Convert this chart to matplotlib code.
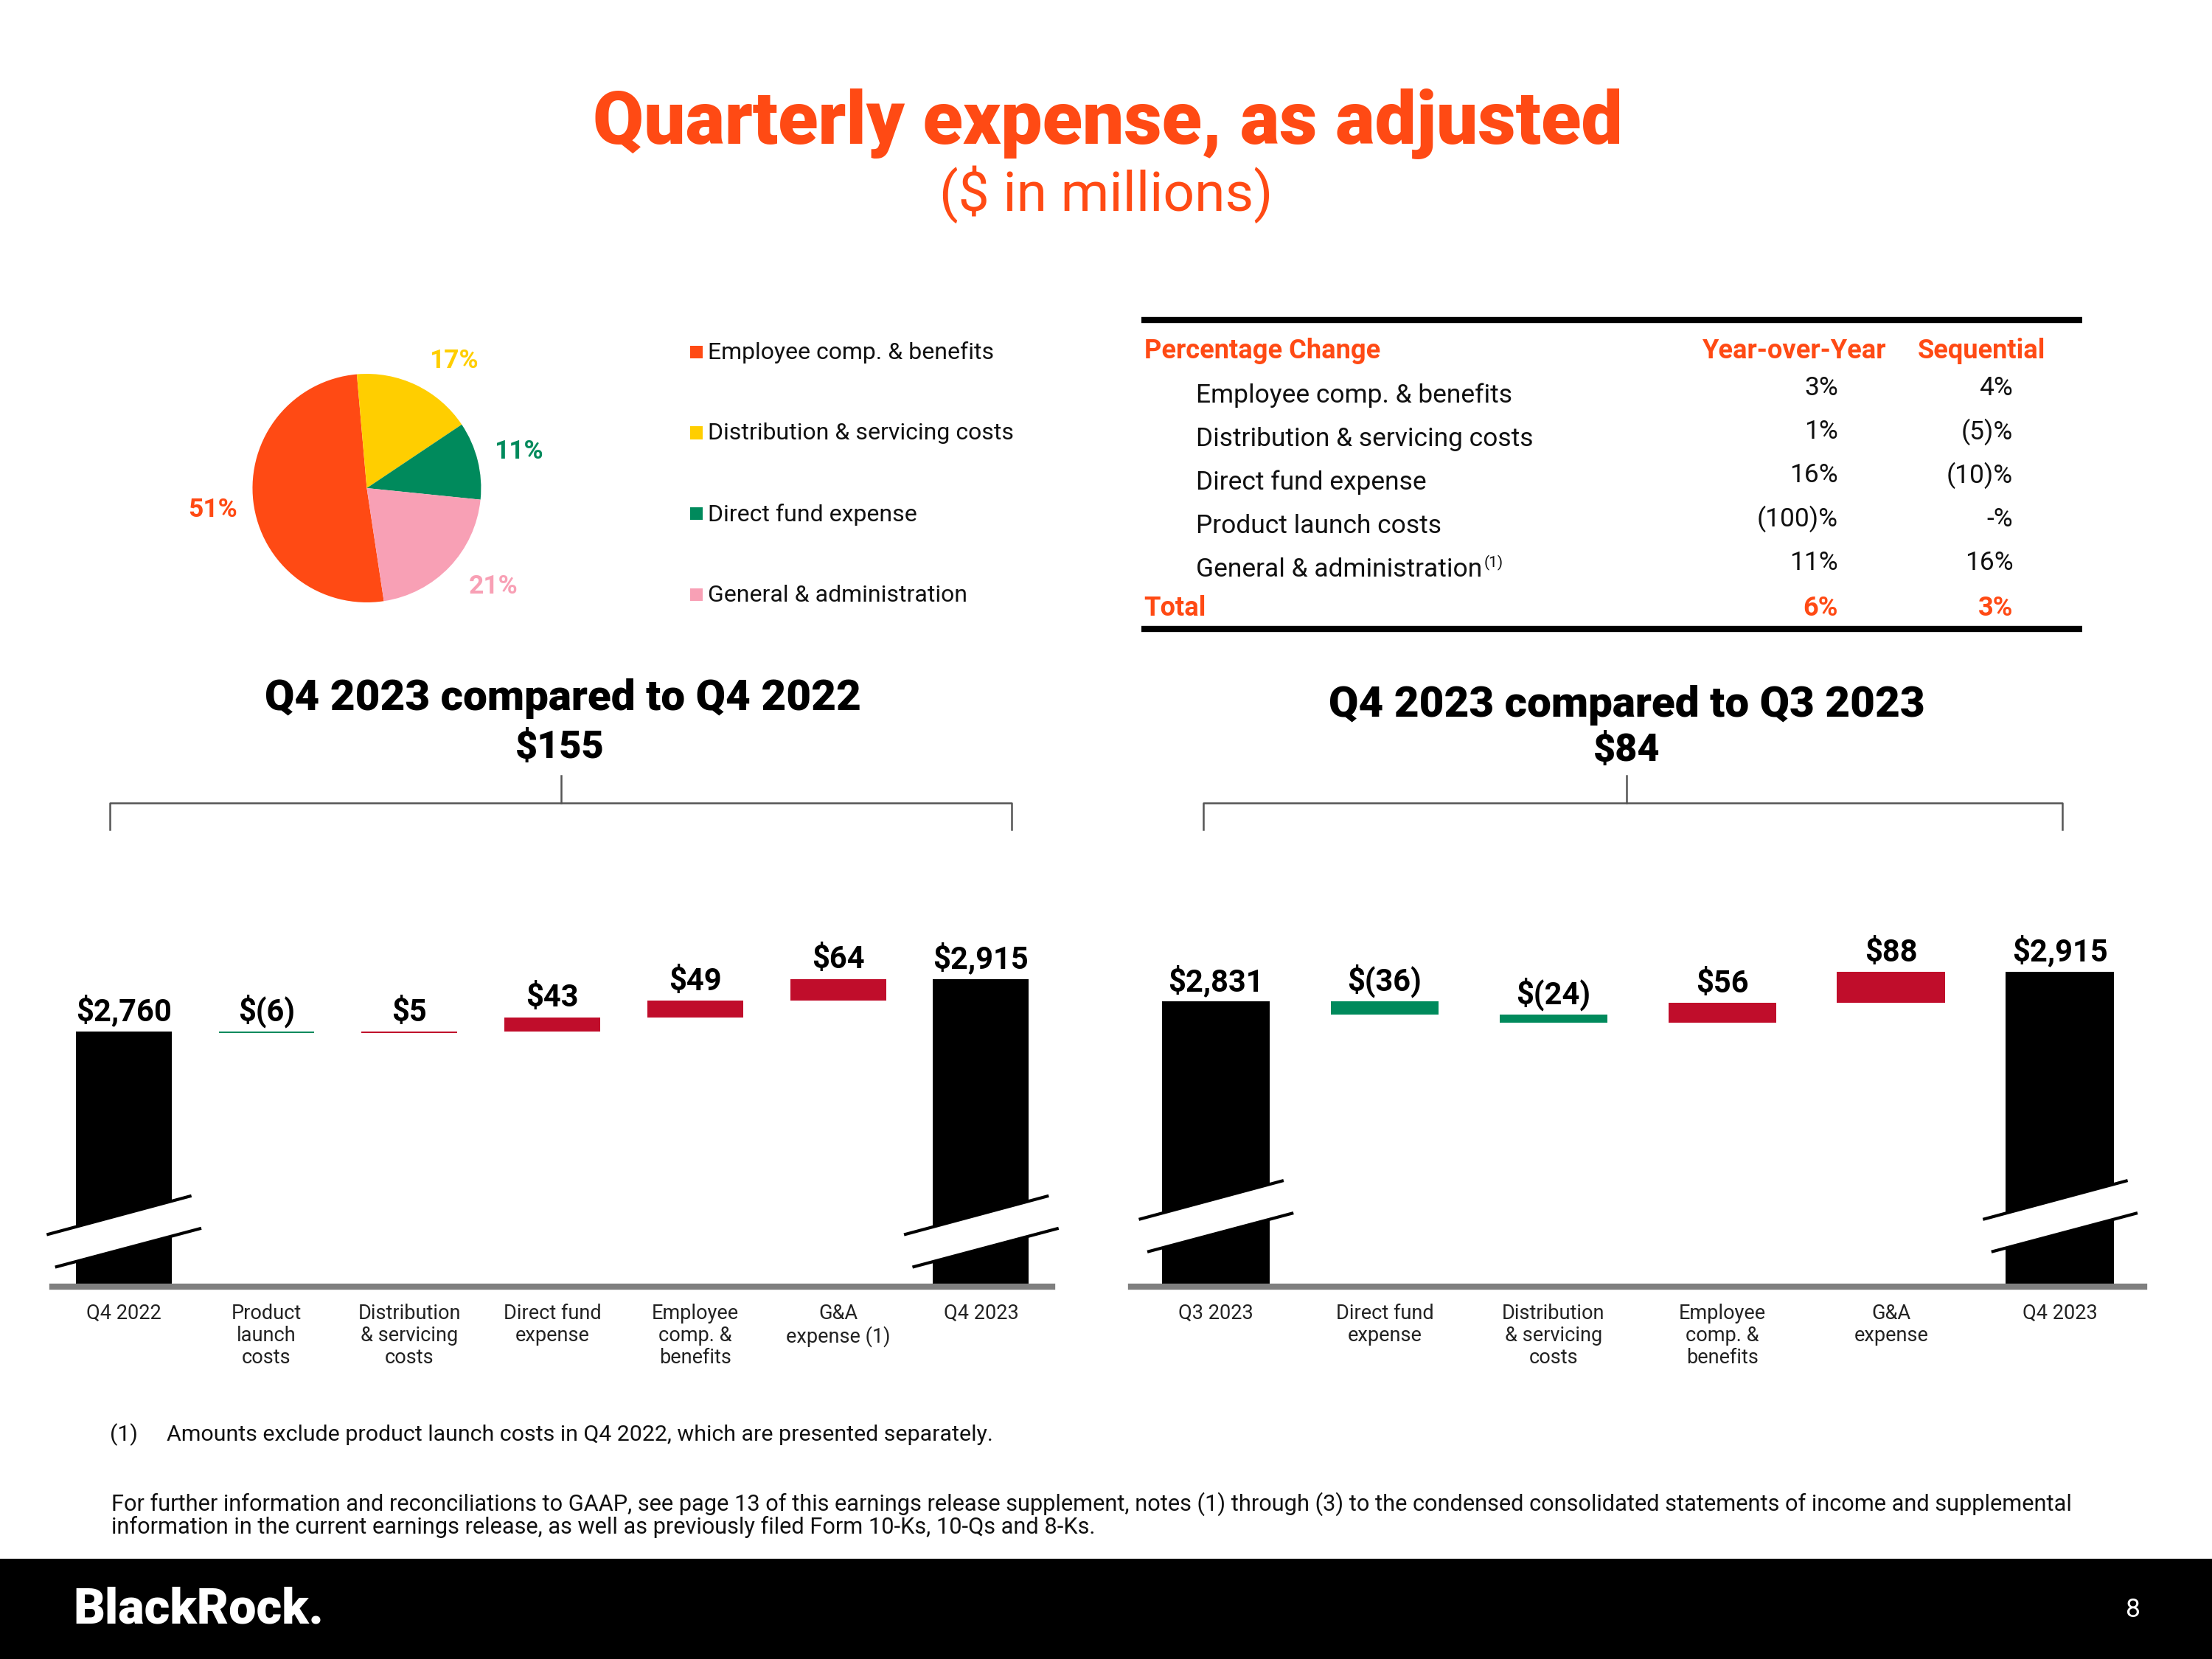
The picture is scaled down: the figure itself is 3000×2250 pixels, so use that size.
import matplotlib.pyplot as plt
import matplotlib.transforms as mtransforms
from matplotlib.patches import Rectangle, Polygon

plt.rcParams['font.family'] = ['Roboto', 'DejaVu Sans']

ORANGE = '#FF4A14'
RED = '#C00D2B'
GREEN = '#008A5C'
YELLOW = '#FFCE00'
PINK = '#F8A0B5'
GREY = '#7F7F7F'

# --- data ---
pie_labels = ['Employee comp. & benefits', 'Distribution & servicing costs',
              'Direct fund expense', 'General & administration']
pie_shares = [51, 17, 11, 21]
pie_colors = [ORANGE, YELLOW, GREEN, PINK]

table_rows = ['Employee comp. & benefits', 'Distribution & servicing costs',
              'Direct fund expense', 'Product launch costs', 'General & administration']
yoy_pct = ['3%', '1%', '16%', '(100)%', '11%']
seq_pct = ['4%', '(5)%', '(10)%', '-%', '16%']
total_yoy = '6%'
total_seq = '3%'

yoy_cats = ['Q4 2022', 'Product\nlaunch\ncosts', 'Distribution\n& servicing\ncosts',
            'Direct fund\nexpense', 'Employee\ncomp. &\nbenefits', 'G&A\nexpense (1)', 'Q4 2023']
yoy_start = 2760
yoy_deltas = [-6, 5, 43, 49, 64]
yoy_end = 2915

seq_cats = ['Q3 2023', 'Direct fund\nexpense', 'Distribution\n& servicing\ncosts',
            'Employee\ncomp. &\nbenefits', 'G&A\nexpense', 'Q4 2023']
seq_start = 2831
seq_deltas = [-36, -24, 56, 88]
seq_end = 2915

# --- page in pixel coordinates ---
W, H = 1568, 1176
PX = 1 / 156.8  # inches per page pixel

fig = plt.figure(figsize=(10, 7.5), dpi=300)
bg = fig.add_axes([0, 0, 1, 1])
bg.set_xlim(0, W)
bg.set_ylim(H, 0)
bg.axis('off')


def rect(l, t, r, b):
    return [l / W, 1 - b / H, (r - l) / W, (b - t) / H]


def money(v):
    return f'${v:,}' if v >= 0 else f'$({-v})'


# titles
bg.text(785, 88, 'Quarterly expense, as adjusted', ha='center', va='center',
        fontsize=24, fontweight='heavy', color=ORANGE)
bg.text(784, 138, '($ in millions)', ha='center', va='center', fontsize=18, color=ORANGE)

# pie
pax = fig.add_axes(rect(179, 265, 341, 427))
wedges, texts = pax.pie(pie_shares, colors=pie_colors, startangle=95 + 3.6 * pie_shares[0],
                        counterclock=False, labels=[f'{s}%' for s in pie_shares],
                        wedgeprops=dict(linewidth=0),
                        textprops=dict(fontsize=8.5, fontweight='bold'))
label_pos = [(-1.35, -0.19), (0.76, 1.11), (1.33, 0.32), (1.11, -0.86)]
for t, c, p in zip(texts, pie_colors, label_pos):
    t.set_color(c)
    t.set_position(p)
    t.set_ha('center')
    t.set_va('center')
pax.set_xlim(-1, 1)
pax.set_ylim(-1, 1)

for i, (lab, c) in enumerate(zip(pie_labels, pie_colors)):
    y = 250 + 57.3 * i
    bg.add_patch(Rectangle((489, y - 5), 9, 9, color=c, lw=0))
    bg.text(502, y, lab, va='center', fontsize=7.7, color='#111111')

# table
bg.plot([809, 1476], [227, 227], color='black', lw=2, solid_capstyle='butt')
bg.plot([809, 1476], [446, 446], color='black', lw=2, solid_capstyle='butt')
bg.text(811, 249, 'Percentage Change', va='center', fontsize=8.7, fontweight='bold', color=ORANGE)
bg.text(1337, 249, 'Year-over-Year', va='center', ha='right', fontsize=8.7, fontweight='bold', color=ORANGE)
bg.text(1450, 249, 'Sequential', va='center', ha='right', fontsize=8.7, fontweight='bold', color=ORANGE)
renderer = fig.canvas.get_renderer()
for i, (lab, a, b) in enumerate(zip(table_rows, yoy_pct, seq_pct)):
    y = 280 + 31 * i
    t = bg.text(848, y, lab, va='center', fontsize=8.5, color='#111111')
    if lab.startswith('General'):
        bb = t.get_window_extent(renderer).transformed(bg.transData.inverted())
        bg.text(bb.x1 + 1, y - 5, '(1)', va='center', fontsize=5, color='#111111')
    bg.text(1303, y - 5, a, va='center', ha='right', fontsize=8.5, color='#111111')
    bg.text(1427, y - 5, b, va='center', ha='right', fontsize=8.5, color='#111111')
bg.text(811, 431, 'Total', va='center', fontsize=8.7, fontweight='bold', color=ORANGE)
bg.text(1303, 431, total_yoy, va='center', ha='right', fontsize=8.7, fontweight='bold', color=ORANGE)
bg.text(1427, 431, total_seq, va='center', ha='right', fontsize=8.7, fontweight='bold', color=ORANGE)

# section headings and brackets
bg.text(399, 495, 'Q4 2023 compared to Q4 2022', ha='center', va='center', fontsize=14, fontweight='heavy')
bg.text(397, 530, money(yoy_end - yoy_start), ha='center', va='center', fontsize=12.5, fontweight='heavy')
bg.text(1153, 500, 'Q4 2023 compared to Q3 2023', ha='center', va='center', fontsize=14, fontweight='heavy')
bg.text(1153, 532, money(seq_end - seq_start), ha='center', va='center', fontsize=12.5, fontweight='heavy')
for l, c, r in [(78, 398, 717), (853, 1153, 1462)]:
    bg.plot([l, l, r, r], [588, 569, 569, 588], color='#555555', lw=0.6)
    bg.plot([c, c], [569, 550], color='#555555', lw=0.6)


def draw_break(ax, xc, yf):
    anchor = mtransforms.blended_transform_factory(ax.transData, ax.transAxes)
    tr = fig.dpi_scale_trans + mtransforms.ScaledTranslation(xc, yf, anchor)
    up = [(-53.5, -2), (47, 25)]
    lo = [(-47.5, -25), (54, 2)]
    band = [up[0], up[1], lo[1], lo[0]]
    ax.add_patch(Polygon([(x * PX, y * PX) for x, y in band], closed=True, facecolor='white',
                         edgecolor='none', transform=tr, clip_on=False, zorder=5))
    for seg in (up, lo):
        ax.plot([p[0] * PX for p in seg], [p[1] * PX for p in seg], color='black', lw=1.0,
                transform=tr, clip_on=False, zorder=6)


def waterfall(box, cats, start, deltas, end, ymin, ymax, width, break_y):
    ax = fig.add_axes(rect(*box))
    n = len(cats)
    ax.set_xlim(-0.5, n - 0.5)
    ax.set_ylim(ymin, ymax)
    ax.bar([0, n - 1], [start - ymin, end - ymin], bottom=ymin, width=width, color='black', zorder=2)
    lab_kw = dict(textcoords='offset points', xytext=(0, 3.5), ha='center', va='baseline',
                  fontsize=10, fontweight='bold')
    ax.annotate(money(start), (0, start), **lab_kw)
    ax.annotate(money(end), (n - 1, end), **lab_kw)
    run = start
    for i, d in enumerate(deltas, 1):
        lo, hi = min(run, run + d), max(run, run + d)
        ax.bar(i, hi - lo, bottom=lo, width=width, color=RED if d > 0 else GREEN, zorder=2)
        ax.annotate(money(d), (i, hi), **lab_kw)
        run += d
    ax.axhline(ymin, color=GREY, lw=2, clip_on=False, zorder=3)
    for s in ax.spines.values():
        s.set_visible(False)
    ax.set_yticks([])
    ax.set_xticks(range(n))
    ax.set_xticklabels(cats, fontsize=6.5, color='#222222', linespacing=1.15)
    ax.tick_params(axis='x', length=0, pad=5.5)
    draw_break(ax, 0, break_y)
    draw_break(ax, n - 1, break_y)
    return ax


waterfall((37, 660, 746, 912), yoy_cats, yoy_start, yoy_deltas, yoy_end,
          2000, 2000 + 252 * 4.2, 0.67, 0.155)
waterfall((802, 660, 1520, 912), seq_cats, seq_start, seq_deltas, seq_end,
          2023, 2023 + 252 * 4.0, 0.64, 0.198)

# footnotes
bg.text(78, 1017, '(1)', va='center', fontsize=7.3, color='#111111')
bg.text(118, 1017, 'Amounts exclude product launch costs in Q4 2022, which are presented separately.',
        va='center', fontsize=7.3, color='#111111')
bg.text(79, 1074, 'For further information and reconciliations to GAAP, see page 13 of this earnings release '
        'supplement, notes (1) through (3) to the condensed consolidated statements of income and supplemental\n'
        'information in the current earnings release, as well as previously filed Form 10-Ks, 10-Qs and 8-Ks.',
        va='center', fontsize=7.4, color='#111111', linespacing=1.0)

# footer band
bg.add_patch(Rectangle((0, 1105), W, 71, color='black', lw=0))
bg.text(52, 1141, 'BlackRock.', va='center', fontsize=16, fontweight='heavy', color='white')
bg.text(1512, 1141, '8', va='center', ha='center', fontsize=8.5, color='white')

fig.savefig('out.png', dpi=300)
